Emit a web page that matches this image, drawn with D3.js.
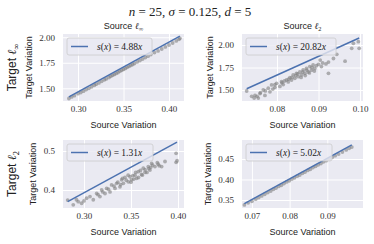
<!DOCTYPE html>
<html>
<head>
<meta charset="utf-8">
<script src="https://cdn.jsdelivr.net/npm/d3@7"></script>
<style>
  body { margin: 0; background: #fff; }
  svg text { font-family: "Liberation Sans", sans-serif; }
  .num { font-family: "Liberation Serif", serif; }
</style>
</head>
<body>
<svg id="chart" width="374" height="244"></svg>
<script>
// top-left: source l_inf vs target l_inf
var linfSrc = [0.290,0.293,0.296,0.300,0.303,0.306,0.309,0.312,0.315,0.318,0.320,0.323,0.326,0.329,0.331,0.334,0.336,0.338,0.340,0.342,0.344,0.346,0.348,0.350,0.352,0.354,0.356,0.358,0.360,0.362,0.365,0.368,0.371,0.374,0.377,0.380,0.384,0.388,0.392,0.396,0.400,0.404,0.408,0.411,0.412];
var linfTgt = [1.400,1.415,1.428,1.447,1.458,1.472,1.487,1.500,1.515,1.530,1.540,1.553,1.568,1.583,1.592,1.606,1.617,1.627,1.636,1.646,1.655,1.666,1.676,1.685,1.695,1.705,1.714,1.724,1.733,1.742,1.758,1.772,1.786,1.801,1.815,1.830,1.850,1.866,1.885,1.905,1.924,1.944,1.964,1.980,1.990];
// top-right: source l_2 vs target l_inf
var l2SrcA = [0.0727,0.0739,0.0747,0.0755,0.0759,0.0767,0.0771,0.0779,0.0783,0.0787,0.0795,0.0799,0.0807,0.0811,0.0815,0.0823,0.0827,0.0831,0.0835,0.0839,0.0843,0.0847,0.0851,0.0855,0.0859,0.0863,0.0867,0.0871,0.0875,0.0879,0.0883,0.0887,0.0891,0.0900,0.0904,0.0907,0.0924,0.0924,0.0936,0.0944,0.0964,0.0980,0.0984,0.0996,0.0998,0.0812,0.0818,0.0828,0.0836,0.0845,0.0850,0.0858,0.0862,0.0868,0.0872,0.0878,0.0884,0.0890,0.0895,0.0910,0.0918,0.0760,0.0790,0.0795,0.0772,0.0745,0.0752];
var l2TgtA = [1.489,1.430,1.440,1.410,1.460,1.500,1.440,1.520,1.480,1.556,1.530,1.574,1.540,1.592,1.560,1.611,1.590,1.637,1.610,1.667,1.630,1.685,1.648,1.700,1.667,1.722,1.685,1.740,1.700,1.760,1.720,1.778,1.740,1.785,1.833,1.760,1.685,1.810,1.850,1.896,1.820,1.963,2.019,2.037,1.963,1.580,1.600,1.620,1.640,1.660,1.680,1.640,1.700,1.660,1.720,1.690,1.750,1.710,1.770,1.800,1.790,1.470,1.510,1.560,1.490,1.410,1.430];
// bottom-left: source l_inf vs target l_2
var linfSrcB = [0.2827,0.2886,0.2939,0.2975,0.3028,0.3064,0.3099,0.3135,0.3170,0.3188,0.3224,0.3241,0.3277,0.3294,0.3330,0.3348,0.3383,0.3401,0.3419,0.3436,0.3472,0.3490,0.3507,0.3543,0.3560,0.3578,0.3613,0.3631,0.3649,0.3684,0.3702,0.3720,0.3755,0.3791,0.3826,0.3862,0.3980,0.3980,0.3990,0.332,0.336,0.339,0.341,0.345,0.347,0.350,0.352,0.353,0.355,0.358,0.360,0.362,0.365,0.367,0.369,0.371,0.373,0.378,0.380,0.315,0.320,0.326,0.292,0.300];
var l2TgtB = [0.374,0.362,0.370,0.366,0.379,0.383,0.375,0.391,0.383,0.400,0.391,0.404,0.395,0.413,0.404,0.417,0.408,0.426,0.417,0.432,0.421,0.434,0.426,0.438,0.430,0.447,0.440,0.456,0.445,0.460,0.451,0.468,0.460,0.466,0.460,0.473,0.494,0.471,0.475,0.410,0.420,0.414,0.430,0.425,0.438,0.420,0.437,0.428,0.445,0.432,0.450,0.438,0.452,0.445,0.455,0.458,0.464,0.470,0.462,0.388,0.395,0.402,0.375,0.372];
// bottom-right: source l_2 vs target l_2
var l2Src = [0.0680,0.0690,0.0700,0.0710,0.0718,0.0726,0.0734,0.0742,0.0750,0.0757,0.0764,0.0771,0.0778,0.0785,0.0792,0.0799,0.0806,0.0813,0.0820,0.0827,0.0834,0.0841,0.0848,0.0855,0.0862,0.0869,0.0876,0.0883,0.0890,0.0897,0.0905,0.0913,0.0921,0.0930,0.0940,0.0950,0.0958,0.0965];
var l2Tgt = [0.338,0.343,0.347,0.352,0.356,0.360,0.364,0.368,0.372,0.376,0.379,0.383,0.386,0.390,0.394,0.397,0.401,0.404,0.408,0.411,0.415,0.418,0.422,0.425,0.429,0.432,0.436,0.439,0.443,0.446,0.450,0.454,0.458,0.462,0.467,0.472,0.476,0.479];

var slopes = [4.88, 20.82, 1.31, 5.02];
var slopeLabels = ["4.88", "20.82", "1.31", "5.02"];
var xTicks = [[0.30,0.35,0.40],[0.08,0.09,0.10],[0.30,0.35,0.40],[0.07,0.08,0.09]];
var yTicks = [[1.50,1.75,2.00],[1.50,1.75,2.00],[0.4,0.5],[0.35,0.40,0.45]];
var yFmt = [".2f", ".2f", ".1f", ".2f"];

var svg = d3.select("#chart");
var bg = "#eaeaf2", lineColor = "#4c72b0";

function drawPanel(o){
    var x = d3.scaleLinear().domain(o.xDom).range([o.left, o.right]);
    var y = d3.scaleLinear().domain(o.yDom).range([o.bottom, o.top]);
    var g = svg.append("g");

    g.append("rect")
        .attr("x", o.left).attr("y", o.top)
        .attr("width", o.right - o.left).attr("height", o.bottom - o.top)
        .attr("fill", bg);

    var xAxis = d3.axisBottom(x).tickValues(o.xTicks).tickSize(-(o.bottom - o.top)).tickPadding(5).tickFormat(d3.format(".2f"));
    var xa = g.append("g").attr("transform", "translate(0," + o.bottom + ")").call(xAxis);
    var yAxis = d3.axisLeft(y).tickValues(o.yTicks).tickSize(-(o.right - o.left)).tickPadding(8).tickFormat(d3.format(o.yFmt));
    var ya = g.append("g").attr("transform", "translate(" + o.left + ",0)").call(yAxis);
    [xa, ya].forEach(function(a){
        a.select(".domain").remove();
        a.selectAll(".tick line").attr("stroke", "#fff").attr("stroke-width", 1);
        a.selectAll(".tick text").attr("class", "num").attr("fill", "#333").attr("font-size", 9);
    });

    var pts = o.src.map(function(d, i){ return [d, o.tgt[i]]; });
    g.append("g").selectAll("circle").data(pts).enter().append("circle")
        .attr("cx", function(d){ return x(d[0]); })
        .attr("cy", function(d){ return y(d[1]); })
        .attr("r", 1.9)
        .attr("fill", "#808080")
        .attr("fill-opacity", 0.6);

    var ext = d3.extent(o.src);
    g.append("path")
        .attr("d", d3.line()([[x(ext[0]), y(o.slope*ext[0])], [x(ext[1]), y(o.slope*ext[1])]]))
        .attr("stroke", lineColor).attr("stroke-width", 1.5).attr("fill", "none");

    // legend
    var lx = o.left + 4, ly = o.top + 4;
    g.append("rect")
        .attr("x", lx).attr("y", ly).attr("width", o.legW).attr("height", 17).attr("rx", 2)
        .attr("fill", bg).attr("fill-opacity", 0.8).attr("stroke", "#cccccc").attr("stroke-width", 0.8);
    g.append("line")
        .attr("x1", lx + 4).attr("x2", lx + 21).attr("y1", ly + 8.5).attr("y2", ly + 8.5)
        .attr("stroke", lineColor).attr("stroke-width", 1.5);
    var t = g.append("text").attr("class", "num").attr("x", lx + 30).attr("y", ly + 12)
        .attr("font-size", 9.5).attr("fill", "#222");
    t.append("tspan").attr("font-style", "italic").text("s");
    t.append("tspan").text("(");
    t.append("tspan").attr("font-style", "italic").text("x");
    t.append("tspan").text(") = " + o.slopeLabel);
    t.append("tspan").attr("font-style", "italic").text("x");

    g.append("text")
        .attr("x", (o.left + o.right) / 2).attr("y", o.bottom + 27)
        .attr("text-anchor", "middle").attr("font-size", 9).attr("fill", "#222")
        .text("Source Variation");
    g.append("text")
        .attr("transform", "translate(" + o.yLabX + "," + ((o.top + o.bottom) / 2) + ") rotate(-90)")
        .attr("text-anchor", "middle").attr("font-size", 9).attr("fill", "#222")
        .text("Target Variation");
}

var panels = [
    {left: 63, right: 184, top: 34, bottom: 101, xDom: [0.2835, 0.4165], yDom: [1.3755, 2.032], src: linfSrc, tgt: linfTgt, yLabX: 32, legW: 85},
    {left: 242, right: 363, top: 34, bottom: 101, xDom: [0.07157, 0.10072], yDom: [1.378, 2.122], src: l2SrcA, tgt: l2TgtA, yLabX: 213, legW: 90},
    {left: 63, right: 184, top: 140, bottom: 208, xDom: [0.2777, 0.4064], yDom: [0.3538, 0.5282], src: linfSrcB, tgt: l2TgtB, yLabX: 36, legW: 86},
    {left: 242, right: 363, top: 140, bottom: 208, xDom: [0.06737, 0.09947], yDom: [0.3305, 0.4963], src: l2Src, tgt: l2Tgt, yLabX: 211, legW: 86}
];
panels.forEach(function(p, i){
    p.xTicks = xTicks[i];
    p.yTicks = yTicks[i];
    p.yFmt = yFmt[i];
    p.slope = slopes[i];
    p.slopeLabel = slopeLabels[i];
    drawPanel(p);
});

// suptitle
var st = svg.append("text").attr("class", "num").attr("x", 190).attr("y", 16)
    .attr("text-anchor", "middle").attr("font-size", 13).attr("fill", "#222");
st.append("tspan").attr("font-style", "italic").text("n");
st.append("tspan").text(" = 25, ");
st.append("tspan").attr("font-style", "italic").text("σ");
st.append("tspan").text(" = 0.125, ");
st.append("tspan").attr("font-style", "italic").text("d");
st.append("tspan").text(" = 5");

// column titles and row labels
function ellLabel(sel, word, sub, size){
    sel.append("tspan").text(word + " ");
    sel.append("tspan").attr("class", "num").attr("font-style", "italic").text("ℓ");
    sel.append("tspan").attr("class", "num").attr("font-size", size * 0.7).attr("dy", size * 0.25).text(sub);
}
[["∞", 123.5], ["2", 302.5]].forEach(function(c){
    var t = svg.append("text").attr("x", c[1]).attr("y", 29).attr("text-anchor", "middle")
        .attr("font-size", 9).attr("fill", "#222");
    ellLabel(t, "Source", c[0], 9);
});
[["∞", 67.5], ["2", 174]].forEach(function(r){
    var t = svg.append("text").attr("transform", "translate(16," + r[1] + ") rotate(-90)")
        .attr("text-anchor", "middle").attr("font-size", 12).attr("fill", "#222");
    ellLabel(t, "Target", r[0], 12);
});
</script>
</body>
</html>
